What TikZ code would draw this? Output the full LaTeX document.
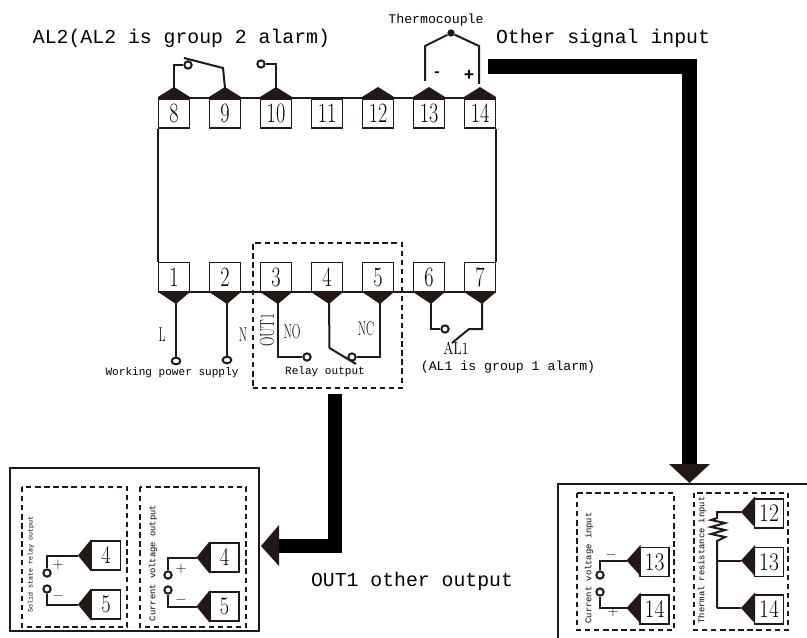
\documentclass[tikz,border=0pt]{standalone}
\usepackage{fontspec}
\setmonofont{Liberation Mono}
\usetikzlibrary{positioning,shapes.geometric}
\definecolor{inkdark}{HTML}{231815}
\newcommand{\slim}[2]{\scalebox{#1}[1]{#2}}
\tikzset{
  terminal/.style={draw=inkdark, line width=1.2pt, fill=white, minimum width=23pt, minimum height=22pt, inner sep=0pt, font=\fontsize{21}{21}\selectfont},
  terminalsm/.style={terminal, minimum width=22pt, minimum height=22pt, font=\fontsize{19}{19}\selectfont},
  wire/.style={draw=inkdark, line width=1.5pt},
  lug/.style={circle, draw=inkdark, line width=1.5pt, fill=white, minimum size=5.5pt, inner sep=0pt},
  dashbox/.style={draw=inkdark, line width=0.9pt, dash pattern=on 4pt off 2.8pt},
  panel/.style={draw=inkdark, line width=1.7pt},
  bigtext/.style={inner sep=0pt, font=\ttfamily\fontsize{14.85}{15}\selectfont},
  midtext/.style={inner sep=0pt, font=\ttfamily\fontsize{9.9}{10}\selectfont},
  lowtext/.style={inner sep=0pt, font=\ttfamily\fontsize{8.3}{9}\selectfont},
  vtext/.style={inner sep=0pt, rotate=90, font=\ttfamily\fontsize{6.6}{7}\selectfont},
  vtiny/.style={inner sep=0pt, rotate=90, font=\ttfamily\fontsize{5}{6}\selectfont},
  serif/.style={inner sep=0pt, font=\fontsize{15}{15}\selectfont},
  sign/.style={inner sep=0pt, text=inkdark, font=\fontsize{11}{11}\selectfont},
  heavy/.style={line width=11.2pt, draw=black}
}
\begin{document}
\begin{tikzpicture}[x=0.75pt,y=-0.75pt]
  \useasboundingbox (0,0) rectangle (807,638);
  % body
  \foreach \n/\x in {8/174,9/225,10/276,11/327,12/378,13/429,14/480} {
    \node[terminal] (t\n) at (\x,113.5) {\slim{.72}{\n}};
    \coordinate (p\n) at (\x,88);
  }
  \foreach \x in {174,225,276,378,429,480} {
    \fill[inkdark] (\x-16,97) -- (\x,87) -- (\x+16,97) -- cycle;
  }
  \foreach \n/\x in {1/174,2/225,3/276,4/327,5/378,6/429,7/480} {
    \node[terminal] (t\n) at (\x,277) {\slim{.72}{\n}};
    \coordinate (p\n) at (\x+2,303);
    \fill[inkdark] (\x-16,292) -- (\x+2,304) -- (\x+16,292) -- cycle;
  }
  \draw[wire] (t8.north west) -- (t14.north east);
  \draw[wire] (t1.south west) -- (t7.south east);
  \draw[wire] (t8.south west) -- (t1.north west);
  \draw[wire] (t14.south east) -- (t7.north east);
  % relay group
  \node[dashbox, minimum width=111.75pt, minimum height=108.75pt, inner sep=0pt] (relay) at (327.5,315.5) {};
  % top wires
  \node[lug] (c8) at (188,65) {};
  \node[lug] (c10) at (261,64) {};
  \coordinate (k9) at (223,68);
  \coordinate (e9) at (184,58);
  \draw[wire] (p8) |- (c8);
  \draw[wire] (p9) -- (k9) -- (e9);
  \draw[wire] (p10) |- (c10);
  \node[circle, fill=inkdark, inner sep=0pt, minimum size=5.5pt] (tc) at (451,33) {};
  \coordinate (tl) at (425,46);
  \coordinate (tr) at (479,46);
  \coordinate (el) at (425,81);
  \coordinate (er) at (479,84);
  \draw[wire] (el) -- (tl) -- (tc) -- (tr) -- (er);
  \node[inner sep=0pt, font=\ttfamily\bfseries\fontsize{11}{11}\selectfont] (minus) at (437,74) {-};
  \node[inner sep=0pt, font=\ttfamily\bfseries\fontsize{13}{13}\selectfont] (plus) at (469,75) {+};
  % bottom wires
  \node[lug, ellipse, minimum width=6.5pt, minimum height=5pt] (cl) at (176,361) {};
  \node[lug, ellipse, minimum width=6.5pt, minimum height=5pt] (cn) at (227,360) {};
  \node[lug] (c3) at (307,357) {};
  \node[lug] (c5) at (352,357) {};
  \node[lug] (c6) at (445,329) {};
  \coordinate (k4) at (329.5,348);
  \coordinate (e4) at (356,364);
  \coordinate (k7) at (469,329);
  \coordinate (e7) at (452,343);
  \draw[wire] (p1) -- (cl);
  \draw[wire] (p2) -- (cn);
  \draw[wire] (p3) |- (c3);
  \draw[wire] (p4) -- (k4) -- (e4);
  \draw[wire] (p5) |- (c5);
  \draw[wire] (p6) |- (c6);
  \draw[wire] (p7) |- (k7) -- (e7);
  % labels
  \node[bigtext] (al2) at (181.5,38) {AL2(AL2 is group 2 alarm)};
  \node[bigtext] (other) at (603,38) {Other signal input};
  \node[bigtext] (out) at (412,581) {OUT1 other output};
  \node[midtext] (thermo) at (436,20) {Thermocouple};
  \node[midtext] (al1txt) at (508,367) {(AL1 is group 1 alarm)};
  \node[lowtext] (power) at (172,373) {Working power supply};
  \node[lowtext] (relaytxt) at (325,372) {Relay output};
  \node[serif] (ltxt) at (162,335) {\slim{.6}{L}};
  \node[serif] (ntxt) at (243,335) {\slim{.6}{N}};
  \node[serif, rotate=90] (out1) at (267,330) {\slim{.65}{OUT1}};
  \node[serif] (no) at (292,332) {\slim{.6}{NO}};
  \node[serif] (nc) at (366,329) {\slim{.6}{NC}};
  \node[serif, font=\fontsize{13}{13}\selectfont] (al1) at (456,348) {\slim{.8}{AL1}};
  % heavy arrows
  \draw[heavy] (335,394) -- (335,546) -- (279,546);
  \fill[inkdark] (279,525) -- (261,546) -- (279,566) -- cycle;
  \draw[heavy] (488,66.5) -- (689.5,66.5) -- (689.5,465);
  \fill[inkdark] (669,464) -- (689.5,483) -- (710,464) -- cycle;
  % left panel
  \draw[panel] (10,468) rectangle (259,631);
  \draw[dashbox] (22,487) rectangle (127,627);
  \draw[dashbox] (140,487) rectangle (246,627);
  \node[vtiny] (ssr) at (31,564) {Solid state relay output};
  \node[vtext] (cvo) at (153,563) {Current voltage output};
  \foreach \m/\x/\y/\d in {a/106/555.5/4, b/106/604.5/5, c/224.5/557.5/4, d/224.5/606.5/5} {
    \node[terminalsm] (o\m) at (\x,\y) {\slim{.8}{\d}};
    \coordinate (q\m) at (\x-28,\y);
    \fill[inkdark] (\x-15,\y-16) -- (\x-28,\y) -- (\x-15,\y+16) -- cycle;
  }
  \node[lug] (l1) at (47,573) {};
  \node[lug] (l2) at (47,589) {};
  \node[lug] (l3) at (168,575) {};
  \node[lug] (l4) at (168,590) {};
  \draw[wire] (qa) -| (l1);
  \draw[wire] (qb) -| (l2);
  \draw[wire] (qc) -| (l3);
  \draw[wire] (qd) -| (l4);
  \node[sign] (s1) at (58,565) {$+$};
  \node[sign] (s2) at (58,596) {$-$};
  \node[sign] (s3) at (181,569) {$+$};
  \node[sign] (s4) at (181,600) {$-$};
  % right panel
  \draw[panel] (807,484) -- (558,484) -- (558,638);
  \draw[dashbox] (577,493) rectangle (674,630);
  \draw[dashbox] (694,493) rectangle (788,630);
  \node[vtext] (cvi) at (589,568) {Current voltage input};
  \node[vtext] (tri) at (702,560) {Thermal resistance input};
  \foreach \m/\x/\y/\d in {e/654.5/562/13, f/654.5/609.5/14, g/769/513.5/12, h/769/562/13, i/769/609.5/14} {
    \node[terminalsm] (i\m) at (\x,\y) {\slim{.85}{\d}};
    \coordinate (r\m) at (\x-28,\y-1.5);
    \fill[inkdark] (\x-14,\y-17) -- (\x-28,\y-1.5) -- (\x-14,\y+14) -- cycle;
  }
  \node[lug] (l5) at (600,575) {};
  \node[lug] (l6) at (600,592) {};
  \draw[wire] (re) -| (l5);
  \draw[wire] (rf) -| (l6);
  \node[sign] (s5) at (611,555) {$-$};
  \node[sign] (s6) at (613,612) {$+$};
  \coordinate (z1) at (717,518);
  \coordinate (z2) at (717,541);
  \coordinate (z3) at (717,560.5);
  \draw[wire] (rg) -| (z1) -- (711,520) -- (725,523) -- (711,527) -- (725,530) -- (711,534) -- (725,537) -- (717,541) -- (z2) -- (717,608);
  \draw[wire] (rh) -- (z3);
  \draw[wire] (ri) -- (717,608);
\end{tikzpicture}
\end{document}
